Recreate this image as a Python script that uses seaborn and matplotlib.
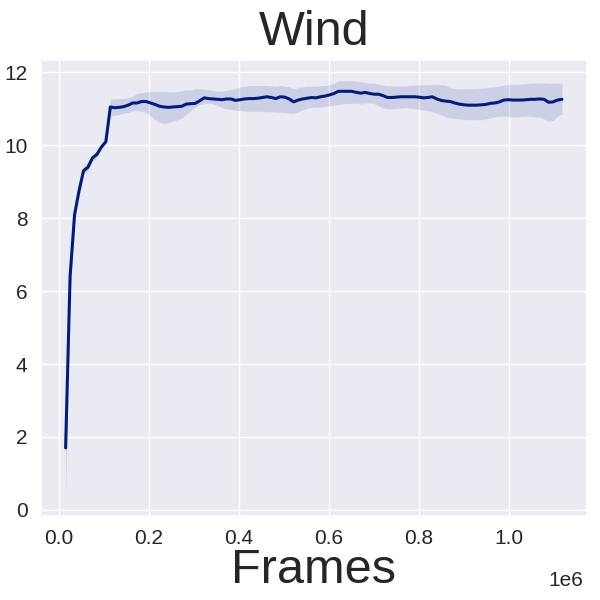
import numpy as np
import pandas as pd
import matplotlib
matplotlib.use("Agg")
import matplotlib.pyplot as plt
import matplotlib.transforms as mtransforms
import seaborn as sns

# values (mean return and band edges per sample)
title = "Wind"
xlabel = "Frames"
mean_ret = [1.7, 6.4, 8.1, 8.75, 9.3, 9.4, 9.65, 9.75, 9.95, 10.1,
            11.05, 11.03, 11.04, 11.06, 11.1, 11.16, 11.16, 11.2, 11.2, 11.16,
            11.12, 11.07, 11.05, 11.04, 11.05, 11.06, 11.07, 11.13, 11.14, 11.15,
            11.22, 11.3, 11.28, 11.27, 11.26, 11.25, 11.27, 11.27, 11.23, 11.25,
            11.27, 11.28, 11.28, 11.29, 11.31, 11.33, 11.31, 11.28, 11.33, 11.32,
            11.27, 11.19, 11.24, 11.27, 11.29, 11.31, 11.3, 11.33, 11.35, 11.38,
            11.42, 11.48, 11.48, 11.48, 11.48, 11.45, 11.43, 11.45, 11.42, 11.4,
            11.4, 11.36, 11.31, 11.31, 11.32, 11.33, 11.33, 11.33, 11.33, 11.32,
            11.3, 11.31, 11.33, 11.27, 11.23, 11.21, 11.2, 11.16, 11.13, 11.11,
            11.1, 11.1, 11.1, 11.11, 11.12, 11.15, 11.16, 11.19, 11.24, 11.25,
            11.24, 11.24, 11.24, 11.25, 11.26, 11.26, 11.27, 11.26, 11.18, 11.19,
            11.24, 11.26]
band_lo = [0.4, 6.0, 7.9, 8.6, 9.2, 9.3, 9.55, 9.65, 9.9, 10.05,
           10.8, 10.82, 10.85, 10.88, 10.9, 10.95, 10.95, 10.93, 10.9, 10.8,
           10.7, 10.63, 10.6, 10.62, 10.66, 10.7, 10.75, 10.85, 10.95, 11.05,
           11.12, 11.14, 11.16, 11.14, 11.08, 11.03, 11.0, 10.98, 10.96, 10.95,
           10.94, 10.93, 10.93, 10.93, 10.93, 10.92, 10.92, 10.91, 10.91, 10.9,
           10.88, 10.87, 10.92, 10.97, 11.02, 11.04, 11.04, 11.05, 11.06, 11.08,
           11.1, 11.12, 11.14, 11.15, 11.15, 11.15, 11.13, 11.16, 11.16, 11.14,
           11.08, 11.02, 11.0, 11.0, 11.01, 11.02, 11.03, 11.02, 11.0, 10.98,
           10.97, 10.95, 10.92, 10.88, 10.83, 10.78, 10.75, 10.74, 10.72, 10.71,
           10.7, 10.7, 10.7, 10.7, 10.72, 10.75, 10.78, 10.8, 10.8, 10.79,
           10.78, 10.78, 10.79, 10.8, 10.79, 10.78, 10.77, 10.72, 10.66, 10.68,
           10.8, 10.85]
band_hi = [2.2, 6.8, 8.3, 8.9, 9.45, 9.55, 9.75, 9.85, 10.05, 10.15,
           11.27, 11.27, 11.28, 11.28, 11.3, 11.35, 11.42, 11.44, 11.46, 11.47,
           11.48, 11.47, 11.48, 11.47, 11.46, 11.47, 11.5, 11.52, 11.52, 11.55,
           11.55, 11.54, 11.52, 11.5, 11.48, 11.49, 11.5, 11.53, 11.56, 11.6,
           11.62, 11.64, 11.64, 11.64, 11.64, 11.64, 11.63, 11.62, 11.64, 11.62,
           11.6, 11.55, 11.58, 11.6, 11.62, 11.62, 11.62, 11.63, 11.64, 11.66,
           11.7, 11.76, 11.77, 11.77, 11.77, 11.76, 11.74, 11.72, 11.7, 11.7,
           11.68, 11.65, 11.63, 11.63, 11.63, 11.63, 11.63, 11.64, 11.65, 11.66,
           11.66, 11.66, 11.67, 11.67, 11.66, 11.64, 11.58, 11.56, 11.55, 11.55,
           11.55, 11.55, 11.56, 11.57, 11.58, 11.6, 11.6, 11.62, 11.65, 11.67,
           11.67, 11.67, 11.68, 11.69, 11.7, 11.71, 11.71, 11.71, 11.7, 11.7,
           11.7, 11.7]
frames = np.linspace(15600, 1118000, len(mean_ret))

df = pd.DataFrame({"frames": frames, "ret": mean_ret, "lo": band_lo, "hi": band_hi})

sns.set_theme(style="darkgrid")
plt.rcParams["font.family"] = ["Liberation Sans", "DejaVu Sans"]
color = sns.color_palette("dark")[0]

fig, ax = plt.subplots(figsize=(6, 6), dpi=100)
ax.fill_between(df["frames"], df["lo"], df["hi"], color=color, alpha=0.12, linewidth=0)
sns.lineplot(data=df, x="frames", y="ret", color=color, linewidth=2.2, ax=ax)

ax.set_title(title, fontsize=35, pad=11)
ax.set_xlabel(xlabel, fontsize=35, labelpad=0)
ax.set_ylabel("")
ax.set_yticks([0, 2, 4, 6, 8, 10, 12])
ax.tick_params(labelsize=15)

# the "1e6" offset sits lower, next to the axis label
off = ax.xaxis.get_offset_text()
off.set_fontsize(15)
off.set_transform(off.get_transform() +
                  mtransforms.ScaledTranslation(-0.04, -0.19, fig.dpi_scale_trans))

plt.subplots_adjust(left=0.068, right=0.978, top=0.9, bottom=0.14)
plt.savefig("out.png")
